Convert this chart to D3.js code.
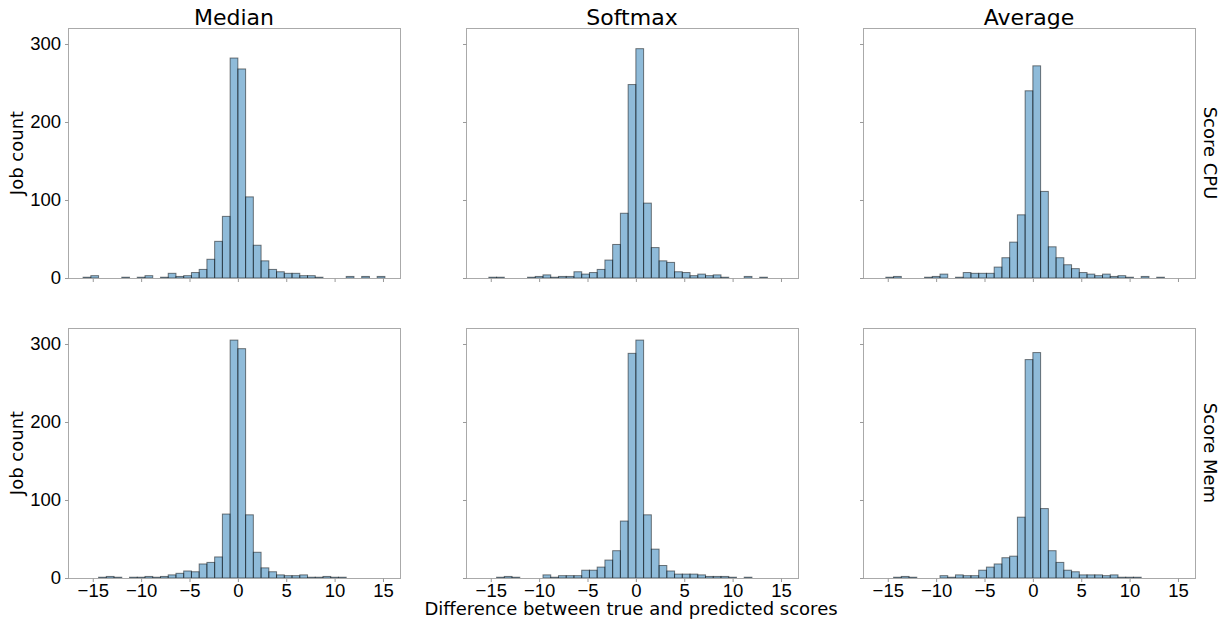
<!DOCTYPE html>
<html>
<head>
<meta charset="utf-8">
<script src="https://cdn.jsdelivr.net/npm/d3@7"></script>
<style>
  body { margin: 0; background: #fff; }
  svg { font-family: "DejaVu Sans", sans-serif; }
  .axis path { display: none; }
  .axis line { stroke: #999; }
  .axis text { fill: #000; font-size: 18.5px; }
</style>
</head>
<body>
<svg id="chart" width="1225" height="621"></svg>
<script>
// facet labels
var methods = ["Median", "Softmax", "Average"];
var scores = ["Score CPU", "Score Mem"];

// histogram bin edges (width 0.8)
var binEdges = [-16, -15.2, -14.4, -13.6, -12.8, -12, -11.2, -10.4, -9.6, -8.8,
  -8, -7.2, -6.4, -5.6, -4.8, -4, -3.2, -2.4, -1.6, -0.8,
  0, 0.8, 1.6, 2.4, 3.2, 4, 4.8, 5.6, 6.4, 7.2,
  8, 8.8, 9.6, 10.4, 11.2, 12, 12.8, 13.6, 14.4, 15.2];

// counts per bin
var cpuMedian = [1, 3, 0, 0, 0, 1, 0, 1, 3, 0, 1, 6, 2, 3, 7, 11, 24, 47, 79, 282,
  268, 104, 42, 22, 11, 8, 6, 6, 3, 3, 1, 0, 0, 0, 2, 0, 2, 0, 2];
var cpuSoftmax = [0, 1, 1, 0, 0, 0, 1, 2, 4, 1, 2, 2, 8, 5, 7, 11, 23, 43, 83, 248,
  294, 96, 39, 22, 20, 8, 7, 3, 5, 3, 4, 1, 0, 0, 2, 0, 1, 0, 0];
var cpuAverage = [0, 1, 2, 0, 0, 0, 1, 2, 5, 0, 1, 7, 6, 6, 6, 14, 26, 46, 81, 240,
  272, 111, 40, 26, 17, 12, 7, 5, 3, 5, 2, 3, 1, 0, 2, 0, 1, 0, 0];
var memMedian = [0, 0, 1, 2, 1, 0, 1, 1, 2, 1, 2, 4, 6, 9, 8, 18, 20, 27, 82, 305,
  294, 81, 33, 13, 8, 4, 3, 3, 4, 1, 1, 2, 1, 1, 0, 0, 0, 0, 0];
var memSoftmax = [0, 0, 1, 2, 1, 0, 0, 0, 4, 1, 3, 3, 3, 10, 10, 14, 23, 35, 73, 288,
  305, 81, 37, 16, 9, 5, 5, 5, 4, 2, 2, 2, 1, 0, 1, 0, 0, 0, 0];
var memAverage = [0, 0, 1, 2, 1, 0, 0, 0, 3, 1, 4, 3, 3, 10, 14, 18, 26, 28, 78, 280,
  289, 89, 35, 20, 10, 8, 4, 4, 4, 3, 4, 1, 1, 1, 0, 0, 0, 0, 0];

var panelCounts = [[cpuMedian, cpuSoftmax, cpuAverage], [memMedian, memSoftmax, memAverage]];

var xTicks = [-15, -10, -5, 0, 5, 10, 15];
var yTicks = [0, 100, 200, 300];

var colLeft = [68, 466, 863];
var rowTop = [28, 328];
var pw = 332, ph = 250;

var svg = d3.select("#chart");

var x = d3.scaleLinear().domain([-17.56, 16.76]).range([0, pw]);
var y = d3.scaleLinear().domain([0, 320.5]).range([ph, 0]);

scores.forEach(function(score, r) {
  methods.forEach(function(method, c) {
    var counts = panelCounts[r][c];
    var bins = counts.map(function(v, i) { return {x0: binEdges[i], x1: binEdges[i] + 0.8, n: v}; });

    var g = svg.append("g")
      .attr("transform", "translate(" + colLeft[c] + "," + rowTop[r] + ")");

    g.selectAll("rect.bar")
      .data(bins.filter(function(d) { return d.n > 0; }))
      .enter().append("rect")
        .attr("class", "bar")
        .attr("x", function(d) { return x(d.x0); })
        .attr("y", function(d) { return y(d.n); })
        .attr("width", function(d) { return x(d.x1) - x(d.x0); })
        .attr("height", function(d) { return ph - y(d.n); })
        .style("fill", "#1f77b4")
        .style("fill-opacity", 0.5)
        .style("stroke", "#000")
        .style("stroke-opacity", 0.5)
        .style("stroke-width", 1);

    // frame
    g.append("rect")
      .attr("x", 0.5).attr("y", 0.5)
      .attr("width", pw).attr("height", ph)
      .style("fill", "none")
      .style("stroke", "#aaa")
      .style("stroke-width", 1);

    var xAxis = d3.axisBottom(x).tickValues(xTicks).tickSize(3.5).tickPadding(2);
    if (r == 0) xAxis.tickFormat("");
    g.append("g")
      .attr("class", "axis")
      .attr("transform", "translate(0," + (ph + 0.5) + ")")
      .call(xAxis);

    var yAxis = d3.axisLeft(y).tickValues(yTicks).tickSize(3.5).tickPadding(4);
    if (c != 0) yAxis.tickFormat("");
    g.append("g")
      .attr("class", "axis")
      .attr("transform", "translate(0.5,0)")
      .call(yAxis);

    if (r == 0) {
      g.append("text")
        .attr("x", pw / 2)
        .attr("y", -3)
        .style("text-anchor", "middle")
        .style("font-size", "22px")
        .text(method);
    }
    if (c == 0) {
      g.append("text")
        .attr("transform", "rotate(-90)")
        .attr("x", -ph / 2)
        .attr("y", -45)
        .style("text-anchor", "middle")
        .style("font-size", "18px")
        .text("Job count");
    }
    if (c == 2) {
      g.append("text")
        .attr("transform", "translate(" + (pw + 4) + "," + (ph / 2) + ") rotate(90)")
        .attr("dy", "-0.3em")
        .style("text-anchor", "middle")
        .style("font-size", "18px")
        .text(score);
    }
  });
});

svg.append("text")
  .attr("x", 631)
  .attr("y", 615)
  .style("text-anchor", "middle")
  .style("font-size", "18px")
  .text("Difference between true and predicted scores");
</script>
</body>
</html>
